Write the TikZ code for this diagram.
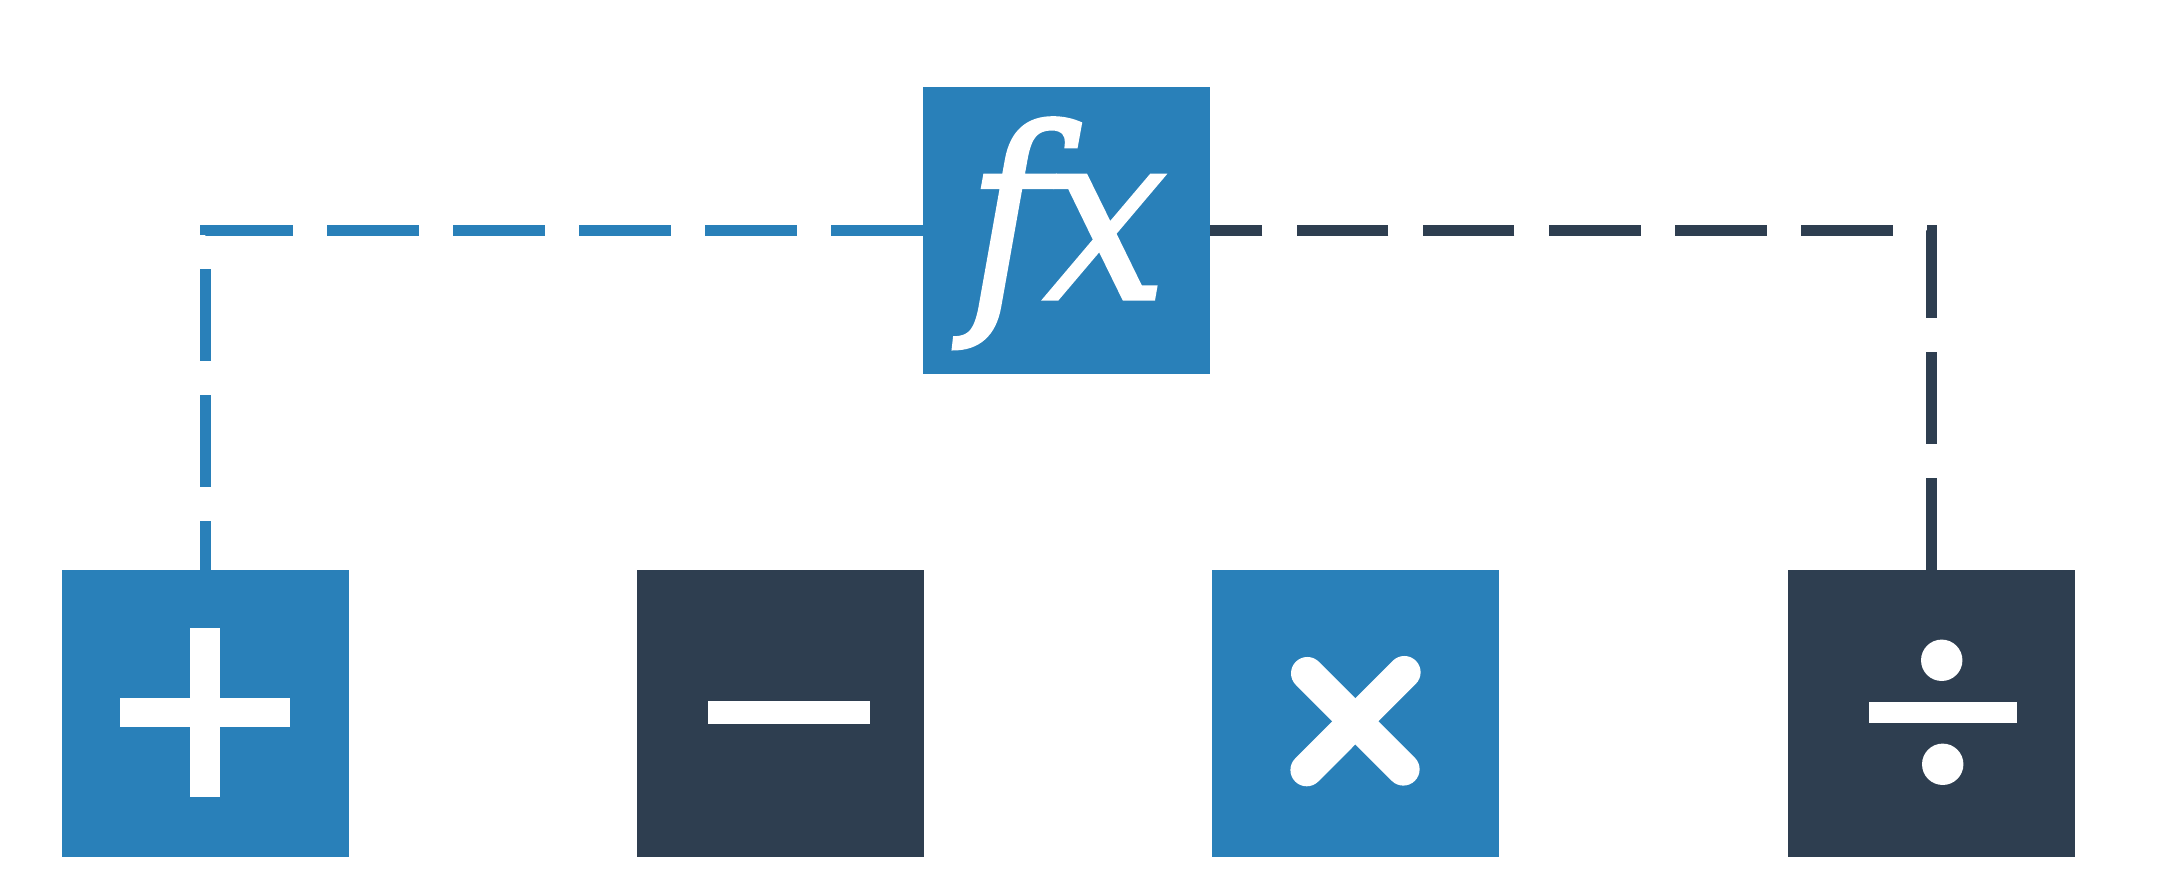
\documentclass[tikz,border=0pt]{standalone}
\usepackage{fontspec}
\newfontfamily\fxfont[ItalicFont={DejaVu Serif Italic},ItalicFeatures={FakeBold=1.2,FakeStretch=0.92}]{DejaVu Serif}
\definecolor{bluebox}{HTML}{2980B9}
\definecolor{darkbox}{HTML}{2E3E50}
\tikzset{
  opbox/.style={draw=none,rectangle,minimum size=2.87cm,inner sep=0pt,outer sep=0pt},
  link/.style={line width=0.115cm,dash pattern=on 0.917cm off 0.343cm,line join=miter},
  glyph/.style={fill=white,draw=none},
  fxtext/.style={text=white,inner sep=0pt,outer sep=0pt,anchor=base}
}
\begin{document}
\begin{tikzpicture}[x=0.01cm,y=-0.01cm]
\path[use as bounding box,fill=white] (0,0) rectangle (2170,892);
\node[opbox,fill=bluebox] (fx) at (1066.5,230.3) {};
\node[opbox,fill=bluebox] (plus) at (205.5,713.3) {};
\node[opbox,fill=darkbox] (minus) at (780.5,713.3) {};
\node[opbox,fill=bluebox] (times) at (1355.5,713.3) {};
\node[opbox,fill=darkbox] (divide) at (1931.5,713.3) {};
\draw[link,draw=bluebox] (fx.west) -| (plus.north);
\draw[link,draw=darkbox] (divide.north) |- (fx.east);
% fx
\node[fxtext] (fxlabel) at (1067,299.3) {\fxfont\fontsize{68}{68}\selectfont\itshape f\kern-0.02em x};
% plus
\fill[glyph] (120,698) rectangle (290,726.7);
\fill[glyph] (190.3,627.7) rectangle (219.7,797);
% minus
\fill[glyph] (708,701) rectangle (869.7,724);
% times
\draw[white,line width=0.326cm,line cap=round] (1307.3,673.3) -- (1403.3,769.3);
\draw[white,line width=0.326cm,line cap=round] (1404.3,672.3) -- (1306.7,770);
% divide
\fill[glyph] (1869,701.7) rectangle (2017,722.7);
\fill[glyph] (1941.7,660.3) circle[radius=20.7];
\fill[glyph] (1942.7,764.3) circle[radius=20.7];
\end{tikzpicture}
\end{document}
